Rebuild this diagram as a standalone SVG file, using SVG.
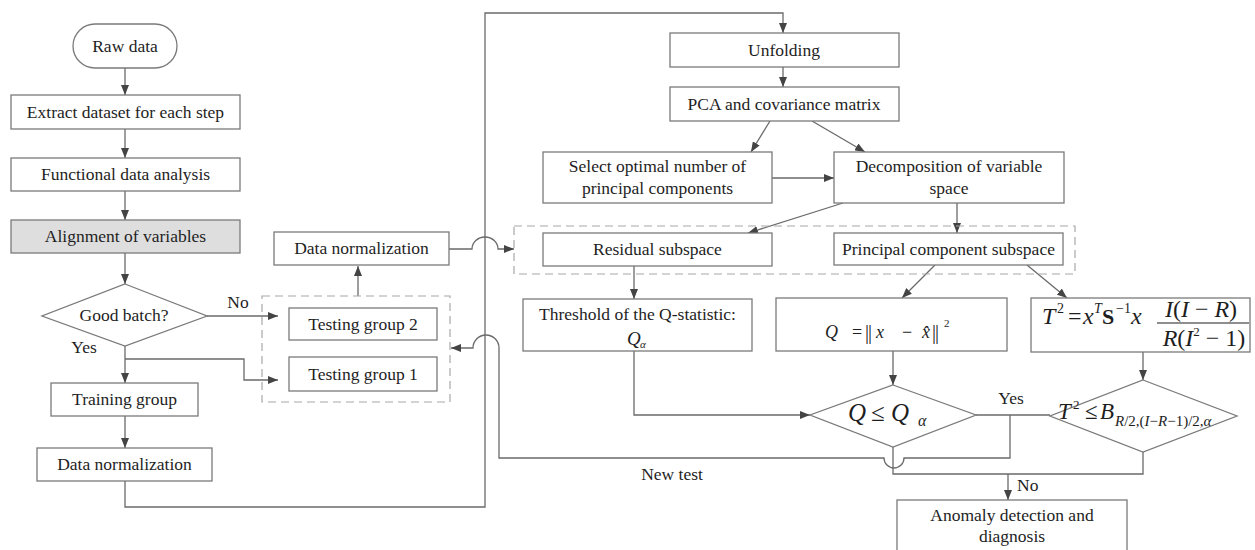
<svg xmlns="http://www.w3.org/2000/svg" width="1255" height="550" viewBox="0 0 1255 550">
<defs>
<marker id="arr" markerUnits="userSpaceOnUse" markerWidth="11" markerHeight="8" refX="10" refY="4" orient="auto"><path d="M0,0 L10,4 L0,8 z" fill="#444"/></marker>
<style>
.box{fill:#fff;stroke:#7a7a7a;stroke-width:1.3}
.gray{fill:#dedede}
.dash{fill:none;stroke:#a8a8a8;stroke-width:1.2;stroke-dasharray:8 5}
.ln{fill:none;stroke:#6a6a6a;stroke-width:1.3}
.a{marker-end:url(#arr)}
.t{font-family:"Liberation Serif","Times New Roman",serif;font-size:17.5px;fill:#1e1e1e;text-anchor:middle}
.m{font-family:"Liberation Serif","DejaVu Serif",serif;fill:#1e1e1e;font-style:italic}
.u{font-style:normal}
.bar{font-style:normal;font-size:20px;letter-spacing:-1px}
</style>
</defs>
<rect width="1255" height="550" fill="#fff"/>

<g id="connectors">
<path class="ln a" d="M125,68 V95"/>
<path class="ln a" d="M125,129 V158"/>
<path class="ln a" d="M125,191 V220"/>
<path class="ln a" d="M125,253 V284"/>
<path class="ln a" d="M207,316 H278"/>
<path class="ln a" d="M125,346 V383"/>
<path class="ln a" d="M125,359 H244 V380 H278"/>
<path class="ln a" d="M125,416 V448"/>
<path class="ln a" d="M125,481 V507 H485 V13 H783 V33"/>
<path class="ln a" d="M358,296 V266"/>
<path class="ln a" d="M449,249 H472 A13,12 0 0 1 498,249 H514"/>
<path class="ln a" d="M783,67 V87"/>
<path class="ln a" d="M770,121 L751,152"/>
<path class="ln a" d="M812,121 L865,152"/>
<path class="ln a" d="M772,178 H834"/>
<path class="ln a" d="M843,203 L748,233"/>
<path class="ln a" d="M957,203 V233"/>
<path class="ln a" d="M634,266 V299"/>
<path class="ln a" d="M935,265 L902,298"/>
<path class="ln a" d="M1027,265 L1067,298"/>
<path class="ln a" d="M893,351 V385"/>
<path class="ln a" d="M1143,352 V380"/>
<path class="ln a" d="M634,351 V415 H810"/>
<path class="ln" d="M976,415 H1050"/>
<path class="ln a" d="M1010,415 V458 H904 A10,10 0 0 1 884,458 H499 V348 A13,13 0 0 0 473,348 H451"/>
<path class="ln" d="M893,447 V474 H1143 V452"/>
<path class="ln a" d="M1008,474 V500"/>
<text class="t" x="238" y="308">No</text>
<text class="t" x="84" y="353">Yes</text>
<text class="t" x="1011" y="404">Yes</text>
<text class="t" x="1017" y="491" style="text-anchor:start">No</text>
<text class="t" x="672" y="480">New test</text>
</g>

<g id="group-testing">
<rect class="dash" x="262" y="296" width="188" height="106"/>
</g>
<g id="group-subspaces">
<rect class="dash" x="514" y="226" width="561" height="48"/>
</g>

<g id="raw-data">
<rect class="box" x="73" y="24" width="104" height="44" rx="22"/>
<text class="t" x="125" y="52">Raw data</text>
</g>
<g id="extract">
<rect class="box" x="11" y="95" width="229" height="34"/>
<text class="t" x="125.5" y="118">Extract dataset for each step</text>
</g>
<g id="fda">
<rect class="box" x="11" y="158" width="229" height="33"/>
<text class="t" x="125.5" y="180">Functional data analysis</text>
</g>
<g id="alignment">
<rect class="box gray" x="11" y="220" width="229" height="33"/>
<text class="t" x="125.5" y="242">Alignment of variables</text>
</g>
<g id="good-batch">
<polygon class="box" points="125,284 207,316 125,346 42,316"/>
<text class="t" x="124" y="321">Good batch?</text>
</g>
<g id="training">
<rect class="box" x="51" y="383" width="147" height="33"/>
<text class="t" x="124.5" y="405">Training group</text>
</g>
<g id="normalization-train">
<rect class="box" x="37" y="448" width="175" height="33"/>
<text class="t" x="124.5" y="470">Data normalization</text>
</g>
<g id="normalization-test">
<rect class="box" x="274" y="232" width="175" height="33"/>
<text class="t" x="361.5" y="254">Data normalization</text>
</g>
<g id="testing2">
<rect class="box" x="289" y="308" width="148" height="32"/>
<text class="t" x="363" y="330">Testing group 2</text>
</g>
<g id="testing1">
<rect class="box" x="289" y="357" width="148" height="34"/>
<text class="t" x="363" y="380">Testing group 1</text>
</g>
<g id="unfolding">
<rect class="box" x="670" y="33" width="229" height="34"/>
<text class="t" x="784" y="56">Unfolding</text>
</g>
<g id="pca">
<rect class="box" x="670" y="87" width="229" height="34"/>
<text class="t" x="784" y="110">PCA and covariance matrix</text>
</g>
<g id="select">
<rect class="box" x="543" y="152" width="229" height="51"/>
<text class="t" x="657.5" y="172">Select optimal number of</text>
<text class="t" x="657.5" y="194">principal components</text>
</g>
<g id="decomposition">
<rect class="box" x="834" y="152" width="230" height="51"/>
<text class="t" x="949" y="172">Decomposition of variable</text>
<text class="t" x="949" y="194">space</text>
</g>
<g id="residual">
<rect class="box" x="543" y="233" width="229" height="33"/>
<text class="t" x="657.5" y="255">Residual subspace</text>
</g>
<g id="pc-subspace">
<rect class="box" x="834" y="233" width="229" height="32"/>
<text class="t" x="948.5" y="255">Principal component subspace</text>
</g>
<g id="threshold">
<rect class="box" x="523" y="299" width="229" height="52"/>
<text class="t" x="637.5" y="320">Threshold of the Q-statistic:</text>
<text class="m" font-size="19" y="345"><tspan x="627">Q</tspan><tspan x="640" y="348" font-size="11">α</tspan></text>
</g>
<g id="q-stat">
<rect class="box" x="776" y="298" width="231" height="53"/>
<text class="m" font-size="18" y="338"><tspan x="825">Q</tspan><tspan class="u" x="852">=</tspan><tspan class="bar" x="865" y="339">||</tspan><tspan x="876" y="338">x</tspan><tspan class="u" x="902">−</tspan><tspan x="922">x̂</tspan><tspan class="bar" x="932" y="339">||</tspan><tspan class="u" x="944" y="327" font-size="11">2</tspan></text>
</g>
<g id="t2-stat">
<rect class="box" x="1031" y="298" width="219" height="54"/>
<text class="m" font-size="24" y="324"><tspan x="1042">T</tspan><tspan class="u" x="1057" y="313" font-size="14">2</tspan><tspan class="u" x="1068" y="324">=</tspan><tspan x="1083">x</tspan><tspan x="1094" y="313" font-size="14">T</tspan><tspan class="u" x="1102" y="324" font-size="22" font-weight="bold">S</tspan><tspan class="u" x="1116" y="313" font-size="14">−1</tspan><tspan x="1131" y="324">x</tspan></text>
<text class="m" font-size="24" x="1201" y="317" text-anchor="middle">I<tspan class="u">(</tspan>I<tspan class="u"> − </tspan>R<tspan class="u">)</tspan></text>
<line x1="1157" y1="323" x2="1249" y2="323" stroke="#1e1e1e" stroke-width="1.2"/>
<text class="m" font-size="24" x="1204" y="346" text-anchor="middle">R<tspan class="u">(</tspan>I<tspan class="u" font-size="13" dy="-10">2</tspan><tspan class="u" dy="10"> − 1)</tspan></text>
</g>
<g id="q-test">
<polygon class="box" points="893,385 976,415 893,447 810,415"/>
<text class="m" font-size="25" y="421"><tspan x="848">Q</tspan><tspan class="u" x="871">≤</tspan><tspan x="891">Q</tspan><tspan x="918" y="426" font-size="16">α</tspan></text>
</g>
<g id="t2-test">
<polygon class="box" points="1143,380 1237,416 1143,452 1050,416"/>
<text class="m" font-size="23" y="419"><tspan x="1058">T</tspan><tspan class="u" x="1073" y="409" font-size="13">2</tspan><tspan class="u" x="1085" y="419">≤</tspan><tspan x="1100">B</tspan><tspan x="1115" y="426" font-size="15">R<tspan class="u">/2,(</tspan>I<tspan class="u">−</tspan>R<tspan class="u">−1)/2,</tspan>α</tspan></text>
</g>
<g id="anomaly">
<rect class="box" x="897" y="500" width="230" height="60"/>
<text class="t" x="1012" y="521">Anomaly detection and</text>
<text class="t" x="1012" y="542">diagnosis</text>
</g>
</svg>
